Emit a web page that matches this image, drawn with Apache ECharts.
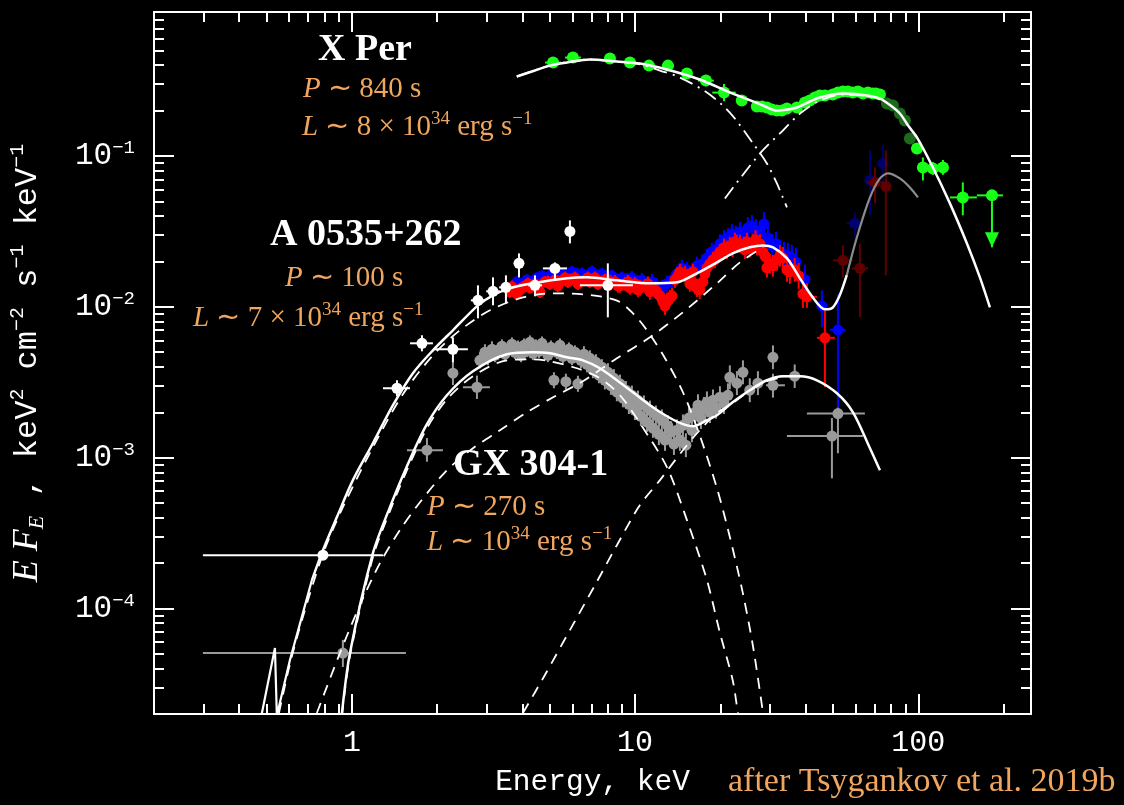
<!DOCTYPE html>
<html>
<head>
<meta charset="utf-8">
<title>Broadband spectra of X Per, A 0535+262 and GX 304-1</title>
<script src="https://cdn.jsdelivr.net/npm/echarts@6/dist/echarts.min.js"></script>
<style>
  html, body { margin: 0; padding: 0; background: #000; }
  #chart { width: 1124px; height: 805px; }
</style>
</head>
<body>
<div id="chart"></div>
<script>
// ---------------- axis ticks ----------------
const xMajorTicks = [1, 10, 100];
const xMinorTicks = [0.3, 0.4, 0.5, 0.6, 0.7, 0.8, 0.9, 2, 3, 4, 5, 6, 7, 8, 9,
  20, 30, 40, 50, 60, 70, 80, 90, 200];
const yMajorTicks = [1e-4, 1e-3, 1e-2, 1e-1];
const yMinorTicks = [3e-5, 4e-5, 5e-5, 6e-5, 7e-5, 8e-5, 9e-5,
  2e-4, 3e-4, 4e-4, 5e-4, 6e-4, 7e-4, 8e-4, 9e-4,
  2e-3, 3e-3, 4e-3, 5e-3, 6e-3, 7e-3, 8e-3, 9e-3,
  0.02, 0.03, 0.04, 0.05, 0.06, 0.07, 0.08, 0.09,
  0.2, 0.3, 0.4, 0.5, 0.6, 0.7, 0.8];

// ---------------- X Per ----------------
const xperModelE = [3.82, 4.4, 5.0, 5.75, 6.92, 8.62, 10.4, 12.95, 16.9, 22.1, 26.1, 28.3, 31.67, 34.36,
  37.27, 41.4, 44.9, 49.9, 54.2, 60, 65.8, 73.2, 79, 86.1, 92, 98.9, 112.6, 129.3, 148.5, 165, 179];
const xperModelF = [0.336, 0.367, 0.397, 0.416, 0.436, 0.423, 0.410, 0.374, 0.321, 0.259, 0.230, 0.216, 0.2001, 0.2032,
  0.2096, 0.2296, 0.244, 0.2555, 0.2594, 0.2574, 0.2516, 0.240, 0.2193, 0.1912, 0.159, 0.1327, 0.0839, 0.0485, 0.0263, 0.01568, 0.00992];
const xperSoftE = [3.82, 5.0, 6.92, 8.62, 10.4, 12.24, 14.39, 17.93, 21.6, 26.1, 29.2, 31.67, 34.36];
const xperSoftF = [0.336, 0.397, 0.436, 0.42, 0.405, 0.368, 0.331, 0.263, 0.194, 0.121, 0.0892, 0.0657, 0.0456];
const xperHardE = [20.75, 27.6, 33.3, 38.2, 44.9, 54.2, 65.8, 73.2];
const xperHardF = [0.0523, 0.104, 0.148, 0.191, 0.233, 0.255, 0.250, 0.238];
// [E, EF_E, relative error, relative energy half-width]
const xperPts = [[5.13,0.416,0.05,0.067],[6.03,0.449,0.05,0.067],[8.15,0.442,0.05,0],[9.59,0.416,0.05,0],
  [11.19,0.397,0.05,0.05],[13.06,0.397,0.05,0.05],[15.24,0.352,0.05,0.04],[17.78,0.316,0.09,0.067],
  [20.6,0.263,0.14,0.10],[23.8,0.233,0.05,0.04],[26.9,0.2128,0.05,0],[28.04,0.2128,0.05,0],[29.2,0.2096,0.05,0],
  [30.41,0.2032,0.05,0],[31.67,0.2001,0.05,0],[32.99,0.2001,0.05,0],[34.36,0.2064,0.05,0],[37.27,0.2096,0.05,0],
  [39.78,0.2262,0.05,0],[41.4,0.233,0.05,0],[43.14,0.244,0.05,0],[44.9,0.2516,0.05,0],[46.8,0.2516,0.05,0],
  [49.9,0.2555,0.05,0],[52.02,0.2634,0.05,0],[54.17,0.2675,0.05,0],[56.42,0.2675,0.05,0],[58.7,0.2634,0.05,0],
  [61.18,0.2675,0.05,0],[63.7,0.2594,0.05,0],[66.38,0.2634,0.05,0],[69.1,0.2594,0.05,0],[70.84,0.2594,0.05,0],
  [73.2,0.2555,0.05,0]];
const xperShadedPts = [[77.5,0.2227,0.05,0],[81.3,0.216,0.05,0],[86.1,0.1912,0.05,0],[89.7,0.1718,0.05,0],[93.4,0.1306,0.06,0]];
// [E, EF_E, low, high, E low, E high, upper limit]
const xperHighRows = [[98.9,0.112,0.105,0.120,0,0,0],[103.8,0.0839,0.0688,0.0977,0,0,0],
  [112.6,0.0826,0.075,0.091,0,0,0],[122.2,0.0839,0.075,0.094,0,0,0],
  [143.6,0.0531,0.0404,0.0668,129.3,161,0],[182,0.0548,0.0248,0.0548,161,199,1]];

// ---------------- A 0535+262 ----------------
const a0535EdgeE = [0.46, 0.481, 0.5347, 0.543, 0.604, 0.671, 0.7223];
const a0535EdgeF = [1.35e-5, 2.03e-5, 5.47e-5, 1.95e-5, 4.56e-5, 9.33e-5, 1.545e-4];
const a0535ModelE = [0.7223, 0.790, 0.885, 1.008, 1.186, 1.396, 1.642, 1.932, 2.273, 2.786, 3.148, 3.613, 4.356,
  5.75, 6.76, 8.62, 11.28, 14.05, 16.53, 19.45, 22.1, 25.4, 28.3, 30.7, 34.4, 38.2, 42.4, 46.8, 49.9, 52.8, 55.9];
const a0535ModelF = [1.545e-4, 2.44e-4, 4.04e-4, 7.10e-4, 1.247e-3, 2.228e-3, 3.63e-3, 5.15e-3, 6.99e-3, 0.01023,
  0.01192, 0.01326, 0.01431, 0.01545, 0.01568, 0.01498, 0.01431, 0.01453, 0.01667, 0.0197, 0.0226, 0.0248,
  0.02554, 0.0248, 0.02095, 0.01545, 0.01155, 0.00962, 0.0099, 0.01192, 0.0162];
const a0535TailE = [55.9, 60.7, 67.5, 73.2, 78.1, 86.1, 93.4, 99.7];
const a0535TailF = [0.0162, 0.0289, 0.0531, 0.0710, 0.0766, 0.0710, 0.0618, 0.0531];
const a0535SoftE = [0.5524, 0.6041, 0.671, 0.790, 0.929, 1.186, 1.513, 1.932, 2.407, 3.071, 4.017, 5.125, 6.54,
  8.59, 9.82, 11.01, 12.75, 14.75, 16.9, 19.45, 21.6, 24.0, 26.1, 28.3, 29.2];
const a0535SoftF = [2.03e-5, 4.29e-5, 8.79e-5, 2.30e-4, 4.70e-4, 1.173e-3, 2.633e-3, 4.77e-3, 6.99e-3, 9.48e-3,
  0.01155, 0.01229, 0.01210, 0.01104, 9.06e-3, 6.99e-3, 4.56e-3, 2.715e-3, 1.41e-3, 6.28e-4, 2.98e-4, 1.27e-4,
  5.56e-5, 2.03e-5, 1.35e-5];
const a0535HardE = [0.752, 0.907, 1.067, 1.256, 1.477, 1.739, 2.165, 2.675, 3.331, 4.149, 5.21, 6.54, 8.62,
  11.28, 14.75, 19.45, 23.45, 28.3];
const a0535HardF = [2.03e-5, 5.07e-5, 1.055e-4, 2.0e-4, 3.31e-4, 5.07e-4, 8.26e-4, 1.156e-3, 1.521e-3, 2.0e-3,
  2.555e-3, 3.21e-3, 4.56e-3, 6.28e-3, 9.20e-3, 0.01431, 0.0197, 0.0248];
// soft X-ray points (white)
const a0535SoftRows = [[0.790,2.26e-4,2.10e-4,2.44e-4,0.2977,1.287,0],[1.442,2.886e-3,2.555e-3,3.26e-3,1.287,1.603,0],
  [1.767,5.73e-3,5.07e-3,6.48e-3,1.603,1.932,0],[2.273,5.23e-3,4.29e-3,6.28e-3,1.932,2.568,0],
  [2.786,0.01104,0.00839,0.01388,2.63,2.95,0],[3.148,0.01267,0.01023,0.01568,2.98,3.33,0],
  [3.498,0.01346,0.01055,0.01617,3.31,3.70,0],[3.889,0.01941,0.01568,0.0226,0,0,0],
  [4.429,0.01388,0.01174,0.01617,4.19,4.69,0],[5.21,0.01798,0.01498,0.0197,4.725,5.75,0],
  [5.885,0.0316,0.02633,0.0374,0,0,0],[8.01,0.01388,0.00852,0.01941,6.38,9.82,0]];
// [E, EF_E, relative error]
const a0535RedPts = [[3.613,0.01258,0.10],[3.673,0.01357,0.10],[3.733,0.01297,0.10],[3.825,0.01220,0.10],
  [3.919,0.01297,0.10],[3.983,0.01337,0.10],[4.116,0.01378,0.10],[4.183,0.01421,0.10],[4.251,0.01337,0.09],
  [4.429,0.01421,0.10],[4.537,0.01337,0.10],[4.612,0.01258,0.10],[4.803,0.01465,0.09],[4.921,0.01465,0.10],
  [5.00,0.01421,0.10],[5.21,0.01510,0.10],[5.339,0.01378,0.10],[5.426,0.01465,0.09],[5.651,0.01557,0.10],
  [5.79,0.01465,0.10],[5.885,0.01510,0.10],[6.13,0.01557,0.10],[6.281,0.01421,0.10],[6.385,0.01465,0.10],
  [6.649,0.01510,0.10],[6.812,0.01557,0.10],[6.925,0.01465,0.10],[7.215,0.01557,0.10],[7.39,0.01421,0.10],
  [7.51,0.01465,0.10],[7.822,0.01510,0.10],[8.017,0.01510,0.10],[8.15,0.01421,0.11],[8.485,0.01465,0.11],
  [8.70,0.01378,0.11],[8.84,0.01378,0.11],[9.204,0.01421,0.11],[9.432,0.01465,0.11],[9.59,0.01337,0.11],
  [9.984,0.01421,0.11],[10.23,0.01297,0.12],[10.4,0.01337,0.13],[10.83,0.01378,0.11],[11.1,0.01421,0.12],
  [11.28,0.01258,0.13],[11.75,0.01297,0.13],[12.04,0.01220,0.13],[12.24,0.01183,0.13],[12.54,0.01080,0.15],
  [12.75,0.01016,0.15],[12.95,0.01080,0.15],[13.27,0.01148,0.13],[13.49,0.01183,0.13],[13.82,0.01510,0.13],
  [14.16,0.01605,0.13],[14.39,0.01706,0.13],[14.99,0.01655,0.13],[15.36,0.01557,0.13],[15.61,0.01421,0.13],
  [16.0,0.01706,0.13],[16.26,0.01378,0.14],[16.53,0.01337,0.15],[16.9,0.01297,0.15],[17.35,0.01465,0.13],
  [17.64,0.01655,0.13],[17.93,0.01813,0.13],[18.37,0.01927,0.13],[18.83,0.02049,0.13],[19.13,0.02049,0.13],
  [19.45,0.02177,0.13],[19.93,0.02314,0.13],[20.59,0.02460,0.15],[21.1,0.02386,0.15],[21.6,0.02536,0.15],
  [22.1,0.02460,0.15],[22.51,0.02695,0.15],[22.88,0.02614,0.15],[23.45,0.02614,0.15],[24.23,0.02536,0.15],
  [24.42,0.02386,0.15],[24.83,0.02695,0.15],[25.4,0.02460,0.16],[26.06,0.02614,0.16],[26.6,0.02779,0.16],
  [26.92,0.02536,0.16],[27.6,0.02614,0.16],[28.27,0.02314,0.16],[28.73,0.02177,0.16],[29.2,0.01813,0.16],
  [29.92,0.01927,0.16],[30.67,0.01869,0.18],[31.67,0.02049,0.18],[32.46,0.02177,0.18],[33.25,0.02112,0.18],
  [34.36,0.01759,0.20],[35.2,0.01706,0.20],[36.6,0.01759,0.20],[37.8,0.01605,0.22],[39.13,0.01220,0.24]];
const a0535RedRows = [[40.43,0.01165,0.00985,0.01432,37.8,43.85,0],[46.8,0.00623,0.00293,0.00948,43.85,50.76,0]];
const a0535BluePts = [[3.825,0.01465,0.08],[3.983,0.01421,0.08],[4.149,0.01510,0.08],[4.321,0.01465,0.08],
  [4.50,0.01557,0.08],[4.689,0.01605,0.08],[4.882,0.01557,0.08],[5.085,0.01655,0.08],[5.296,0.01605,0.08],
  [5.513,0.01655,0.08],[5.75,0.01605,0.08],[5.982,0.01706,0.10],[6.23,0.01655,0.10],[6.49,0.01655,0.10],
  [6.76,0.01605,0.10],[7.04,0.01706,0.10],[7.33,0.01605,0.10],[7.635,0.01655,0.10],[7.95,0.01557,0.10],
  [8.28,0.01605,0.10],[8.62,0.01510,0.10],[8.98,0.01557,0.10],[9.35,0.01510,0.11],[9.74,0.01557,0.11],
  [10.15,0.01465,0.11],[10.57,0.01510,0.11],[11.01,0.01421,0.11],[11.47,0.01465,0.13],[11.94,0.01378,0.13],
  [12.43,0.01337,0.13],[12.95,0.01421,0.13],[13.49,0.01510,0.13],[14.05,0.01655,0.13],[14.63,0.01813,0.13],
  [15.24,0.01759,0.13],[15.87,0.01706,0.15],[16.53,0.01869,0.15],[17.22,0.01927,0.15],[17.93,0.02112,0.15],
  [18.67,0.02314,0.15],[19.29,0.02386,0.15],[19.93,0.02614,0.16],[20.59,0.02779,0.16],[21.27,0.02865,0.16],
  [21.97,0.03045,0.16],[22.69,0.02953,0.16],[23.45,0.03139,0.16],[24.23,0.02953,0.16],[25.02,0.03337,0.18],
  [25.85,0.03440,0.18],[26.71,0.03236,0.18],[27.6,0.03139,0.18],[28.5,0.03546,0.20],[29.44,0.02865,0.20],
  [30.41,0.02536,0.20],[31.42,0.02614,0.20],[32.46,0.02314,0.20],[33.53,0.02245,0.20],[34.63,0.02177,0.22],
  [35.78,0.02112,0.22],[36.97,0.01987,0.24],[39.78,0.01510,0.26]];
const a0535BlueRows = [[45.66,0.01016,0.00731,0.01285,0,0,0],[52.02,0.00704,0.002144,0.0122,48.7,55.4,0]];
const a0535DarkRedRows = [[54.17,0.02032,0.01568,0.02555,49.9,58.7,0],[62.2,0.01799,0.00854,0.02629,58.2,66.6,0],
  [70.3,0.06676,0.04845,0.08392,65.8,75.0,0],[76.8,0.06281,0.01616,0.1087,0,0,0]];
const a0535DarkBlueRows = [[59.7,0.03573,0.02887,0.04219,55.9,63.7,0],[67.5,0.06883,0.04035,0.1087,64.6,70.5,0],
  [74.99,0.0892,0.06577,0.1174,0,0,0]];

// ---------------- GX 304-1 ----------------
const gxModelE = [0.922, 0.984, 1.186, 1.362, 1.564, 1.840, 2.165, 2.675, 3.526, 4.356, 5.00, 5.75, 6.54, 7.51,
  8.62, 9.82, 11.28, 12.95, 14.75, 16.0, 17.93, 19.45, 22.1, 25.4, 29.2, 33.3, 38.2, 43.85, 51.6, 58.8, 67.5, 73.2];
const gxModelF = [2.03e-5, 5.07e-5, 2.33e-4, 4.70e-4, 8.78e-4, 1.667e-3, 2.594e-3, 3.74e-3, 4.845e-3, 4.995e-3,
  4.92e-3, 4.63e-3, 4.42e-3, 3.915e-3, 3.26e-3, 2.715e-3, 2.228e-3, 1.883e-3, 1.667e-3, 1.616e-3, 1.771e-3,
  1.912e-3, 2.33e-3, 2.80e-3, 3.26e-3, 3.465e-3, 3.465e-3, 3.26e-3, 2.674e-3, 2.00e-3, 1.156e-3, 8.26e-4];
const gxSoftE = [0.922, 0.984, 1.186, 1.362, 1.564, 1.840, 2.165, 2.675, 3.526, 4.356, 5.00, 6.23, 7.51, 8.84,
  10.4, 12.95, 15.24, 17.93, 19.93, 22.1, 23.07, 23.8];
const gxSoftF = [1.94e-5, 4.84e-5, 2.19e-4, 4.42e-4, 8.26e-4, 1.569e-3, 2.44e-3, 3.465e-3, 4.42e-3, 4.49e-3,
  4.355e-3, 3.915e-3, 3.36e-3, 2.594e-3, 1.692e-3, 8.65e-4, 3.855e-4, 1.545e-4, 6.89e-5, 3.36e-5, 2.03e-5, 1.45e-5];
const gxHardE = [4.017, 4.803, 5.885, 7.215, 8.62, 10.4, 12.24, 14.75, 16.9, 19.45, 22.1, 25.4, 29.2, 33.3];
const gxHardF = [2.03e-5, 3.63e-5, 7.2e-5, 1.43e-4, 2.63e-4, 4.85e-4, 7.10e-4, 1.121e-3, 1.521e-3, 1.98e-3,
  2.30e-3, 2.78e-3, 3.21e-3, 3.41e-3];
const gxPts = [[2.831,4.42e-3,0.13],[2.949,5.00e-3,0.13],[3.021,4.63e-3,0.13],[3.122,5.23e-3,0.13],
  [3.199,4.77e-3,0.11],[3.278,5.15e-3,0.11],[3.386,5.48e-3,0.11],[3.470,4.85e-3,0.11],[3.555,5.23e-3,0.11],
  [3.673,5.65e-3,0.11],[3.763,5.00e-3,0.11],[3.857,5.39e-3,0.11],[3.952,4.77e-3,0.11],[4.05,5.56e-3,0.11],
  [4.149,5.15e-3,0.11],[4.251,5.82e-3,0.11],[4.356,4.92e-3,0.11],[4.465,5.48e-3,0.11],[4.575,5.07e-3,0.11],
  [4.689,5.73e-3,0.11],[4.803,5.23e-3,0.11],[4.921,4.77e-3,0.11],[5.042,5.39e-3,0.11],[5.167,3.26e-3,0.13],
  [5.296,5.00e-3,0.11],[5.426,5.56e-3,0.11],[5.559,4.70e-3,0.11],[5.696,3.19e-3,0.13],[5.835,5.23e-3,0.11],
  [5.982,4.56e-3,0.11],[6.13,5.00e-3,0.11],[6.281,3.09e-3,0.13],[6.436,4.42e-3,0.13],[6.595,4.85e-3,0.13],
  [6.76,4.16e-3,0.13],[6.925,4.56e-3,0.13],[7.096,3.80e-3,0.13],[7.272,4.29e-3,0.13],[7.451,3.52e-3,0.13],
  [7.635,3.98e-3,0.13],[7.822,3.26e-3,0.15],[8.017,3.68e-3,0.15],[8.214,3.00e-3,0.15],[8.416,3.36e-3,0.15],
  [8.62,2.72e-3,0.15],[8.84,3.09e-3,0.15],[9.055,2.48e-3,0.15],[9.279,2.80e-3,0.15],[9.508,2.26e-3,0.16],
  [9.74,2.59e-3,0.16],[9.984,2.06e-3,0.16],[10.23,2.40e-3,0.16],[10.48,1.88e-3,0.16],[10.74,2.23e-3,0.16],
  [11.01,1.72e-3,0.16],[11.28,2.06e-3,0.16],[11.56,1.57e-3,0.16],[11.84,1.91e-3,0.16],[12.13,1.43e-3,0.18],
  [12.43,1.77e-3,0.18],[12.75,1.31e-3,0.18],[13.06,1.62e-3,0.18],[13.38,1.48e-3,0.18],[13.71,1.23e-3,0.18],
  [14.05,1.52e-3,0.18],[14.39,1.31e-3,0.18],[14.75,1.64e-3,0.18],[15.11,1.21e-3,0.2],[15.49,1.83e-3,0.18],
  [15.87,1.52e-3,0.2],[16.26,2.00e-3,0.18],[16.67,2.23e-3,0.18],[17.07,1.83e-3,0.18],[17.50,2.14e-3,0.18],
  [17.93,2.33e-3,0.18],[18.37,2.00e-3,0.18],[18.83,2.40e-3,0.18],[19.29,2.14e-3,0.18],[19.93,2.52e-3,0.18],
  [20.59,2.30e-3,0.18],[21.27,2.59e-3,0.2],[21.6,3.41e-3,0.2],[22.88,3.12e-3,0.2],[24.03,3.68e-3,0.2],
  [25.4,2.80e-3,0.2],[27.14,3.12e-3,0.2],[30.67,4.63e-3,0.2]];
const gxRows = [[0.929,5.07e-5,4.1e-5,6.2e-5,0.2977,1.551,0],[1.840,1.122e-3,0.94e-3,1.35e-3,1.564,2.096,0],
  [2.273,3.63e-3,3.03e-3,4.35e-3,0,0,0],[2.763,2.93e-3,2.45e-3,3.5e-3,2.466,3.071,0],
  [30.67,3.02e-3,2.5e-3,3.6e-3,28.97,33.81,0],[36.6,3.47e-3,2.9e-3,4.15e-3,32.46,39.13,0],
  [52.02,1.96e-3,1.07e-3,2.40e-3,40.43,64.77,0],[49.54,1.39e-3,7.3e-4,1.83e-3,34.36,63.73,0]];

// ---------------- styling ----------------
const WHITE = '#ffffff';
const ORANGE = '#f0a65e';
const GREEN = '#18ff18';
const DARKGREEN = '#1d6a1d';
const RED = '#ff0000';
const DARKRED = '#5e0000';
const BLUE = '#0000ff';
const DARKBLUE = '#00006e';
const GREY = '#9a9a9a';
const AXFONT = 'Liberation Mono';
const SERIF = 'Liberation Serif';

// rows [E, F, Flo, Fhi, Elo, Ehi, upperLimit] from [E, F, rel, relE]
function relRows(pts) {
  return pts.map(p => {
    const r = p[2], x = p[3] || 0;
    return [p[0], p[1], p[1] / (1 + r), p[1] * (1 + r), x ? p[0] / (1 + x) : 0, x ? p[0] * (1 + x) : 0, 0];
  });
}

function pointSeries(rows, color, radius, z) {
  return {
    type: 'custom', clip: true, silent: true, z: z,
    data: rows,
    encode: { x: 0, y: 1 },
    renderItem: function (params, api) {
      const E = api.value(0), F = api.value(1);
      const fLo = api.value(2), fHi = api.value(3), eLo = api.value(4), eHi = api.value(5), lim = api.value(6);
      const c = api.coord([E, F]);
      const kids = [];
      const st = { stroke: color, lineWidth: 2 };
      if (fLo > 0 && fHi > 0) {
        const a = api.coord([E, fLo]), b = api.coord([E, fHi]);
        kids.push({ type: 'line', shape: { x1: a[0], y1: a[1], x2: b[0], y2: b[1] }, style: st });
        if (lim > 0) {
          kids.push({ type: 'polygon', shape: { points: [[a[0] - 7, a[1] - 15], [a[0] + 7, a[1] - 15], [a[0], a[1]]] },
            style: { fill: color } });
        }
      }
      if (eLo > 0 && eHi > 0) {
        const a = api.coord([eLo, F]), b = api.coord([eHi, F]);
        kids.push({ type: 'line', shape: { x1: a[0], y1: a[1], x2: b[0], y2: b[1] }, style: st });
      }
      kids.push({ type: 'circle', shape: { cx: c[0], cy: c[1], r: radius }, style: { fill: color } });
      return { type: 'group', children: kids };
    }
  };
}

function curve(E, F, color, width, dash, z, smooth) {
  return {
    type: 'line', silent: true, clip: true, z: z,
    data: E.map((e, i) => [e, F[i]]),
    showSymbol: false, symbol: 'none',
    smooth: smooth === undefined ? 0.3 : smooth,
    lineStyle: { color: color, width: width, type: dash || 'solid' }
  };
}

const DASH = [11, 8];
const DASHDOT = [14, 6, 2, 6];

// ---------------- axes ----------------
function xAxisDef(pos, ticks, len, main) {
  return {
    type: 'log', logBase: 10, min: 0.2, max: 250, position: pos,
    axisLine: { show: main, onZero: false, lineStyle: { color: WHITE, width: 2 } },
    axisTick: { show: true, inside: true, length: len, customValues: ticks, lineStyle: { color: WHITE, width: 2 } },
    axisLabel: (pos === 'bottom' && main) ? {
      show: true, customValues: xMajorTicks, margin: 14, color: WHITE,
      fontFamily: AXFONT, fontSize: 30, formatter: v => String(Math.round(v))
    } : { show: false },
    name: (pos === 'bottom' && main) ? 'Energy, keV' : '',
    nameLocation: 'middle', nameGap: 53,
    nameTextStyle: { color: WHITE, fontFamily: AXFONT, fontSize: 29.5 },
    splitLine: { show: false }, minorTick: { show: false }
  };
}
function yAxisDef(pos, ticks, len, main) {
  const labelled = pos === 'left' && main;
  return {
    type: 'log', logBase: 10, min: 2e-5, max: 0.9, position: pos,
    axisLine: { show: main, onZero: false, lineStyle: { color: WHITE, width: 2 } },
    axisTick: { show: true, inside: true, length: len, customValues: ticks, lineStyle: { color: WHITE, width: 2 } },
    axisLabel: labelled ? {
      show: true, customValues: yMajorTicks, margin: 19,
      formatter: v => '{b|10}{s|\u2212' + Math.round(-Math.log10(v)) + '}',
      rich: {
        b: { color: WHITE, fontFamily: AXFONT, fontSize: 31, lineHeight: 34 },
        s: { color: WHITE, fontFamily: AXFONT, fontSize: 19, lineHeight: 19, verticalAlign: 'top' }
      }
    } : { show: false },
    name: labelled ? '{it|E F}{sub|E}{m| , keV}{sup|2}{m| cm}{sup|\u22122}{m| s}{sup|\u22121}{m| keV}{sup|\u22121}' : '',
    nameLocation: 'middle', nameRotate: 90, nameGap: 106,
    nameTextStyle: {
      color: WHITE,
      rich: {
        it: { color: WHITE, fontFamily: SERIF, fontStyle: 'italic', fontSize: 36, lineHeight: 40 },
        sub: { color: WHITE, fontFamily: SERIF, fontStyle: 'italic', fontSize: 22, lineHeight: 22, verticalAlign: 'bottom' },
        m: { color: WHITE, fontFamily: AXFONT, fontSize: 32, lineHeight: 40 },
        sup: { color: WHITE, fontFamily: AXFONT, fontSize: 20, lineHeight: 20, verticalAlign: 'top' }
      }
    },
    splitLine: { show: false }, minorTick: { show: false }
  };
}

// ---------------- text annotations ----------------
function orangeRich(size) {
  const s = Math.round(size * 0.66);
  return {
    r: { color: ORANGE, fontFamily: SERIF, fontWeight: 'normal', fontSize: size, lineHeight: size + 6 },
    i: { color: ORANGE, fontFamily: SERIF, fontWeight: 'normal', fontStyle: 'italic', fontSize: size, lineHeight: size + 6 },
    s: { color: ORANGE, fontFamily: SERIF, fontWeight: 'normal', fontSize: s, lineHeight: s, verticalAlign: 'top' }
  };
}
const boldRich = { b: { color: WHITE, fontFamily: SERIF, fontWeight: 'bold', fontSize: 38, lineHeight: 42 } };
function note(left, top, text, rich) {
  return { left: left, top: top, padding: 0, itemGap: 0, text: text, textStyle: { fontWeight: 'normal', rich: rich } };
}
const titles = [
  note(318, 29, '{b|X Per}', boldRich),
  note(303, 72, '{i|P}{r| \u223C 840 s}', orangeRich(29)),
  note(302, 110, '{i|L}{r| \u223C 8 \u00D7 10}{s|34}{r| erg s}{s|\u22121}', orangeRich(29)),
  note(270, 214, '{b|A 0535+262}', boldRich),
  note(285, 261, '{i|P}{r| \u223C 100 s}', orangeRich(29)),
  note(193, 301, '{i|L}{r| \u223C 7 \u00D7 10}{s|34}{r| erg s}{s|\u22121}', orangeRich(29)),
  note(453, 444, '{b|GX 304-1}', boldRich),
  note(427, 490, '{i|P}{r| \u223C 270 s}', orangeRich(29)),
  note(427, 525, '{i|L}{r| \u223C 10}{s|34}{r| erg s}{s|\u22121}', orangeRich(29)),
  note(728, 762, '{r|after Tsygankov et al. 2019b}', orangeRich(34))
];

const option = {
  backgroundColor: '#000000',
  animation: false,
  title: titles,
  grid: { left: 154, right: 93, top: 12, bottom: 91, containLabel: false },
  xAxis: [
    xAxisDef('bottom', xMajorTicks, 20, true),
    xAxisDef('bottom', xMinorTicks, 10, false),
    xAxisDef('top', xMajorTicks, 20, true),
    xAxisDef('top', xMinorTicks, 10, false)
  ],
  yAxis: [
    yAxisDef('left', yMajorTicks, 20, true),
    yAxisDef('left', yMinorTicks, 10, false),
    yAxisDef('right', yMajorTicks, 20, true),
    yAxisDef('right', yMinorTicks, 10, false)
  ],
  series: [
    // data
    pointSeries(relRows(gxPts), GREY, 5.5, 2),
    pointSeries(gxRows, GREY, 5.5, 2),
    pointSeries(relRows(a0535BluePts), BLUE, 5.5, 2),
    pointSeries(a0535BlueRows, BLUE, 5.5, 2),
    pointSeries(a0535DarkBlueRows, DARKBLUE, 5.5, 2),
    pointSeries(relRows(a0535RedPts), RED, 5.5, 2),
    pointSeries(a0535RedRows, RED, 5.5, 2),
    pointSeries(a0535DarkRedRows, DARKRED, 5.5, 2),
    pointSeries(relRows(xperPts), GREEN, 6, 2),
    pointSeries(relRows(xperShadedPts), DARKGREEN, 6, 2),
    pointSeries(xperHighRows, GREEN, 6, 2),
    // model components
    curve(xperSoftE, xperSoftF, WHITE, 1.8, DASHDOT, 3),
    curve(xperHardE, xperHardF, WHITE, 1.8, DASHDOT, 3),
    curve(a0535SoftE, a0535SoftF, WHITE, 1.8, DASH, 3),
    curve(a0535HardE, a0535HardF, WHITE, 1.8, DASH, 3),
    curve(gxSoftE, gxSoftF, WHITE, 1.8, DASH, 3),
    curve(gxHardE, gxHardF, WHITE, 1.8, DASH, 3),
    // total models
    curve(a0535TailE, a0535TailF, '#8c8c8c', 2.2, 'solid', 4),
    curve(xperModelE, xperModelF, WHITE, 2.5, 'solid', 4),
    curve(a0535EdgeE, a0535EdgeF, WHITE, 2.2, 'solid', 4, false),
    curve(a0535ModelE, a0535ModelF, WHITE, 2.5, 'solid', 4),
    curve(gxModelE, gxModelF, WHITE, 2.5, 'solid', 4),
    // soft X-ray points on top
    pointSeries(a0535SoftRows, WHITE, 5.5, 5)
  ]
};

const chart = echarts.init(document.getElementById('chart'), null, { renderer: 'canvas' });
chart.setOption(option);
</script>
</body>
</html>
